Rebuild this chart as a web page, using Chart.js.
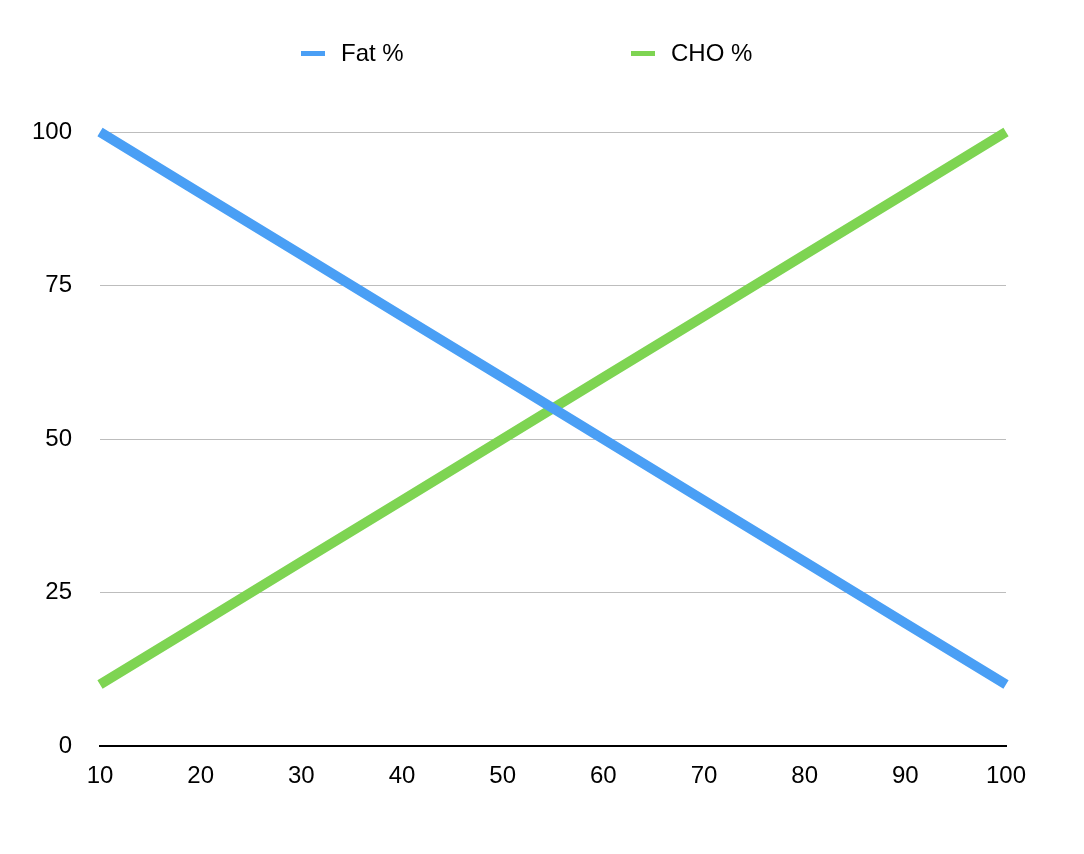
<!DOCTYPE html>
<html>
<head>
<meta charset="utf-8">
<script src="https://cdn.jsdelivr.net/npm/chart.js@4/dist/chart.umd.min.js"></script>
<style>
  html, body { margin: 0; padding: 0; background: #fff; }
  #wrap { width: 1084px; height: 854px; }
</style>
</head>
<body>
<div id="wrap"><canvas id="chart" width="1084" height="854"></canvas></div>
<script>
// x positions along the axis
const xValues   = [10, 20, 30, 40, 50, 60, 70, 80, 90, 100];
const fatPct    = [100, 90, 80, 70, 60, 50, 40, 30, 20, 10];
const choPct    = [10, 20, 30, 40, 50, 60, 70, 80, 90, 100];
const seriesNames = ['Fat %', 'CHO %'];
const yTicks    = [0, 25, 50, 75, 100];

const FONT = { family: "'Liberation Sans', Arial, Helvetica, sans-serif", size: 24 };

// simple legend drawn above the plot, read from the datasets
const topLegend = {
  id: 'topLegend',
  afterDraw(chart) {
    const ctx = chart.ctx;
    const slots = [301, 631];
    ctx.save();
    ctx.font = `${FONT.size}px ${FONT.family}`;
    ctx.textBaseline = 'middle';
    chart.data.datasets.forEach((ds, i) => {
      const x = slots[i];
      ctx.fillStyle = ds.borderColor;
      ctx.fillRect(x, 51, 24, 5);
      ctx.fillStyle = '#000';
      ctx.fillText(ds.label, x + 40, 54);
    });
    ctx.restore();
  }
};

new Chart(document.getElementById('chart'), {
  type: 'line',
  data: {
    datasets: [
      {
        label: seriesNames[0],
        data: xValues.map((x, i) => ({ x, y: fatPct[i] })),
        borderColor: '#4a9ff5',
        borderWidth: 10,
        borderCapStyle: 'butt',
        pointRadius: 0,
        tension: 0,
        clip: false,
      },
      {
        label: seriesNames[1],
        data: xValues.map((x, i) => ({ x, y: choPct[i] })),
        borderColor: '#7ed452',
        borderWidth: 10,
        borderCapStyle: 'butt',
        pointRadius: 0,
        tension: 0,
        clip: false,
      },
    ],
  },
  options: {
    responsive: false,
    animation: false,
    layout: { padding: { top: 132, left: 0, right: 78, bottom: 58 } },
    plugins: {
      legend:  { display: false },
      tooltip: { enabled: false },
    },
    scales: {
      x: {
        type: 'linear',
        min: 10,
        max: 100,
        afterFit: s => { s.height = 50; },
        grid: { display: false, drawTicks: false },
        border: { display: true, color: '#000', width: 2 },
        ticks: {
          stepSize: 10,
          padding: 16,
          color: '#000',
          font: FONT,
          maxRotation: 0,
        },
      },
      y: {
        min: 0,
        max: 100,
        afterFit: s => { s.width = 100; },
        afterBuildTicks: s => { s.ticks = yTicks.map(v => ({ value: v })); },
        grid: {
          drawTicks: false,
          color: ctx => ctx.tick.value === 0 ? 'rgba(0,0,0,0)' : '#bdbdbd',
          lineWidth: 1,
        },
        border: { display: false },
        ticks: {
          padding: 28,
          color: '#000',
          font: FONT,
        },
      },
    },
  },
  plugins: [topLegend],
});
</script>
</body>
</html>
